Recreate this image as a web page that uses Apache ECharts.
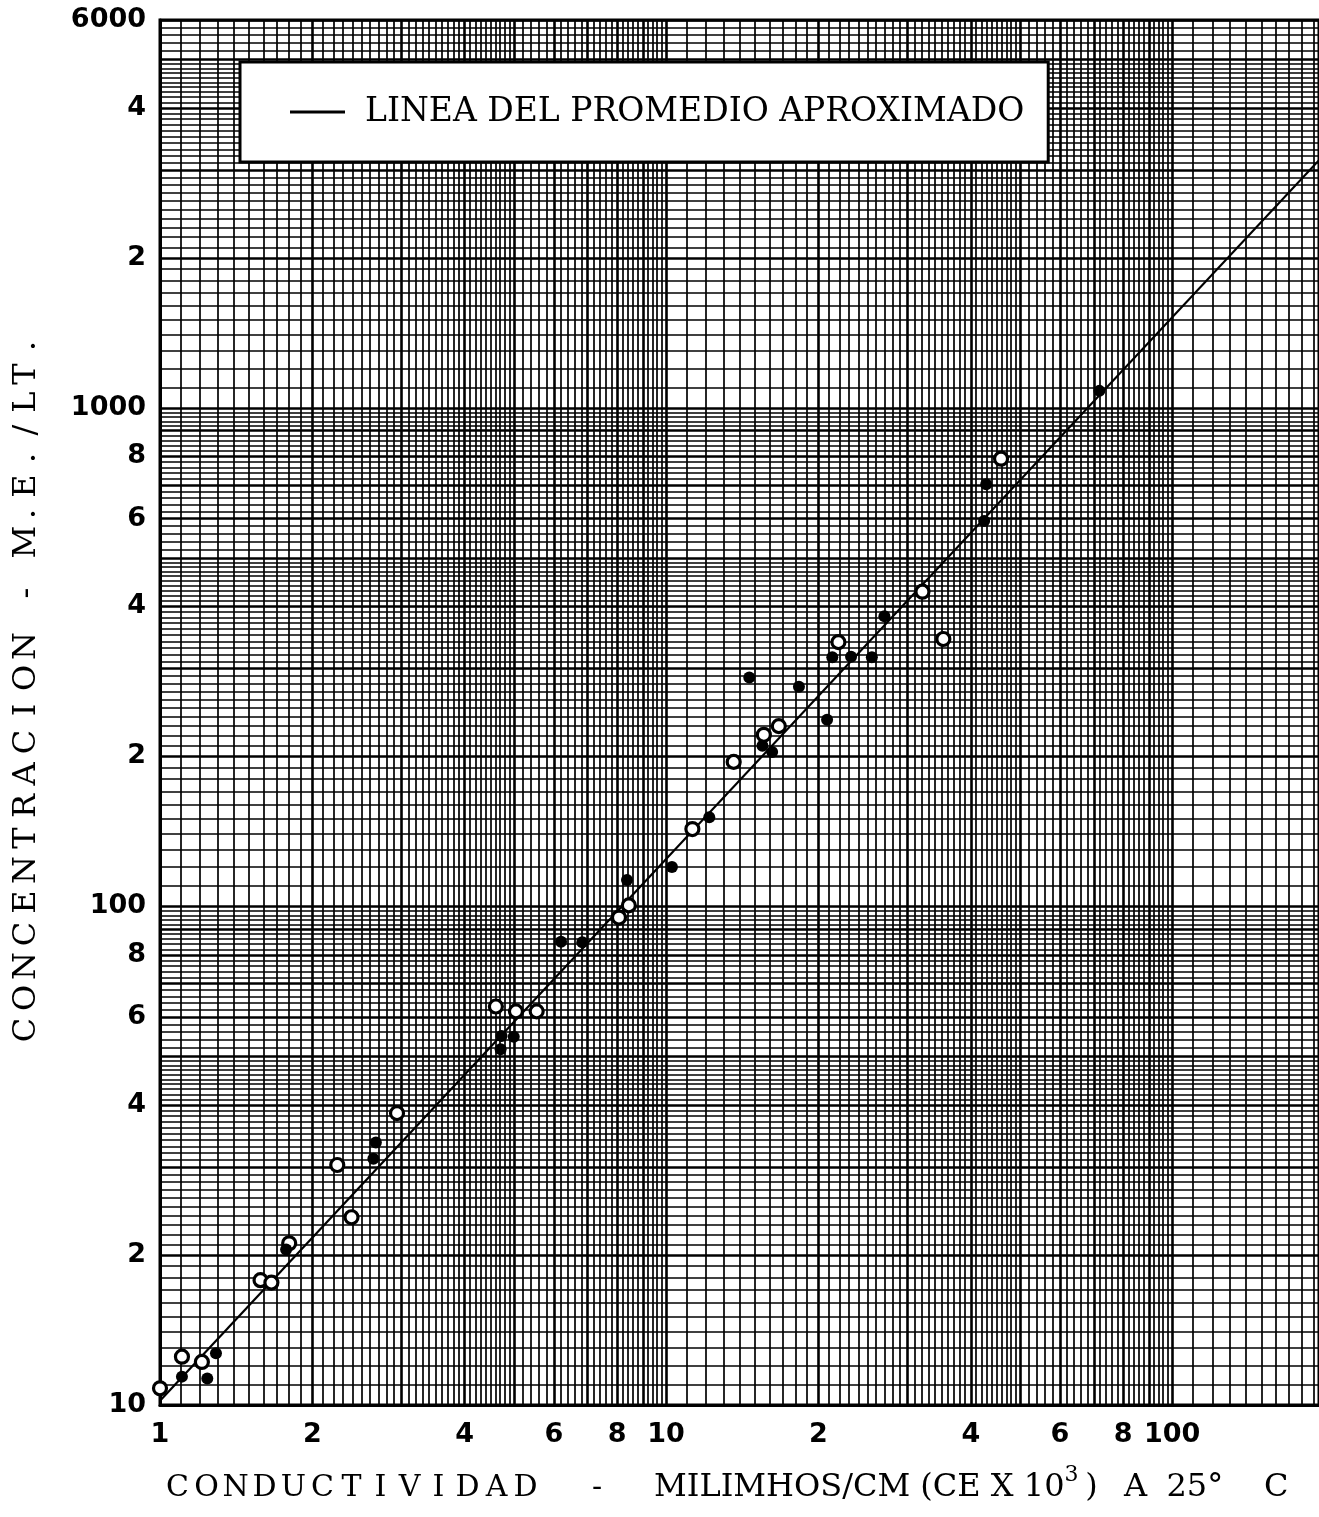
<!DOCTYPE html>
<html>
<head>
<meta charset="utf-8">
<script src="https://cdn.jsdelivr.net/npm/echarts@6/dist/echarts.min.js"></script>
<style>
  html, body { margin: 0; padding: 0; background: #fff; }
  #chart { width: 1319px; height: 1517px; }
</style>
</head>
<body>
<div id="chart"></div>
<script>
// datos
const openX = [1.0, 1.105, 1.21, 1.58, 1.66, 1.80, 2.24, 2.39, 2.94, 4.61, 5.05, 5.55, 8.07, 8.44, 11.27, 13.6, 15.6, 16.7, 21.9, 32.1, 35.3, 45.9];
const openY = [10.8, 12.5, 12.2, 17.8, 17.6, 21.1, 30.3, 23.8, 38.5, 63.0, 61.6, 61.6, 95, 100.5, 143, 195, 221, 230, 339, 428, 344, 791];
const dotX = [1.105, 1.24, 1.29, 1.775, 2.64, 2.67, 4.71, 4.73, 5.0, 6.2, 6.83, 8.37, 10.27, 12.17, 14.6, 15.5, 16.2, 18.3, 20.8, 21.3, 23.2, 25.5, 27.0, 42.5, 42.9, 71.8];
const dotY = [11.4, 11.3, 12.7, 20.5, 31.2, 33.6, 51.7, 55, 54.8, 85, 84.8, 113, 120, 151, 288, 210, 204, 276, 237, 316, 317, 316, 382, 593, 703, 1082];
const lineX = [1, 195];
const lineY = [10.2, 3140];

const xTickValues = [1, 2, 4, 6, 8, 10, 20, 40, 60, 80, 100];
const xTickLabels = ['1', '2', '4', '6', '8', '10', '2', '4', '6', '8', '100'];
const yTickValues = [10, 20, 40, 60, 80, 100, 200, 400, 600, 800, 1000, 2000, 4000, 6000];
const yTickLabels = ['10', '2', '4', '6', '8', '100', '2', '4', '6', '8', '1000', '2', '4', '6000'];

const lineName = 'LINEA DEL PROMEDIO APROXIMADO';

// papel logaritmico: divisiones de cada decada
const paperSteps = [[1, 2, 0.1], [2, 5, 0.1], [5, 10, 0.2]];
function paperLines(decades) {
    const thin = [], thick = [];
    decades.forEach(function (d) {
        paperSteps.forEach(function (seg) {
            const n = Math.round((seg[1] - seg[0]) / seg[2]);
            for (let i = 0; i < n; i++) {
                const v = Math.round((seg[0] + i * seg[2]) * 100) / 100;
                const val = +(v * d).toPrecision(6);
                if (Number.isInteger(v)) thick.push(val); else thin.push(val);
            }
        });
    });
    return {thin: thin, thick: thick};
}
const xPaper = paperLines([1, 10, 100]);
const yPaper = paperLines([10, 100, 1000]);

function labelFor(values, labels) {
    return function (v) {
        for (let i = 0; i < values.length; i++) {
            if (Math.abs(values[i] - v) / values[i] < 1e-6) return labels[i];
        }
        return '';
    };
}

function spaced(text, style) {
    return text.split('').map(function (c) { return '{' + style + '|' + c + '}'; }).join('');
}

const chart = echarts.init(document.getElementById('chart'));
const gridH = 1385, gridW = 1159;
const labelFont = {fontFamily: 'DejaVu Sans', fontWeight: 'bold', fontSize: 27, color: '#000'};
const serif = 'DejaVu Serif';

const option = {
    backgroundColor: '#fff',
    animation: false,
    grid: {
        left: 160, top: 20, right: 0, bottom: 112,
        show: true, borderColor: '#000', borderWidth: 3, backgroundColor: 'transparent'
    },
    legend: {
        data: [{name: lineName, icon: 'rect'}],
        left: 240, top: 62,
        backgroundColor: '#fff',
        borderColor: '#000',
        borderWidth: 3,
        padding: [33, 24, 33, 50],
        itemWidth: 55,
        itemHeight: 3,
        selectedMode: false,
        itemStyle: {color: '#000', borderWidth: 0},
        textStyle: {fontFamily: serif, fontSize: 33, color: '#000', lineHeight: 34, padding: [0, 0, 0, 15]}
    },
    xAxis: [{
        type: 'log', logBase: 10, min: 1, max: 195,
        position: 'bottom',
        axisLine: {show: true, lineStyle: {color: '#000', width: 3}},
        axisTick: {show: true, customValues: xPaper.thick, inside: true, length: gridH, lineStyle: {color: '#000', width: 2.6}},
        axisLabel: Object.assign({customValues: xTickValues, margin: 16, formatter: labelFor(xTickValues, xTickLabels)}, labelFont),
        splitLine: {show: false}
    }, {
        type: 'log', logBase: 10, min: 1, max: 195,
        position: 'bottom',
        axisLine: {show: false},
        axisTick: {show: true, customValues: xPaper.thin, inside: true, length: gridH, lineStyle: {color: '#000', width: 1.7}},
        axisLabel: {show: false},
        splitLine: {show: false}
    }],
    yAxis: [{
        type: 'log', logBase: 10, min: 10, max: 6000,
        position: 'left',
        axisLine: {show: true, lineStyle: {color: '#000', width: 3}},
        axisTick: {show: true, customValues: yPaper.thick, inside: true, length: gridW, lineStyle: {color: '#000', width: 2.6}},
        axisLabel: Object.assign({customValues: yTickValues, margin: 14, formatter: labelFor(yTickValues, yTickLabels)}, labelFont),
        splitLine: {show: false}
    }, {
        type: 'log', logBase: 10, min: 10, max: 6000,
        position: 'left',
        axisLine: {show: false},
        axisTick: {show: true, customValues: yPaper.thin, inside: true, length: gridW, lineStyle: {color: '#000', width: 1.7}},
        axisLabel: {show: false},
        splitLine: {show: false}
    }],
    series: [{
        name: lineName,
        type: 'line',
        symbol: 'none',
        showSymbol: false,
        data: lineX.map(function (x, i) { return [x, lineY[i]]; }),
        lineStyle: {color: '#000', width: 2.2},
        itemStyle: {color: '#000'},
        z: 3
    }, {
        name: 'abiertos',
        type: 'scatter',
        symbol: 'circle',
        symbolSize: 13,
        data: openX.map(function (x, i) { return [x, openY[i]]; }),
        itemStyle: {color: '#fff', borderColor: '#000', borderWidth: 3.2, opacity: 1},
        z: 4
    }, {
        name: 'llenos',
        type: 'scatter',
        symbol: 'circle',
        symbolSize: 12,
        data: dotX.map(function (x, i) { return [x, dotY[i]]; }),
        itemStyle: {color: '#000', opacity: 1},
        z: 4
    }],
    graphic: [{
        type: 'text',
        x: 163, y: 1488,
        style: {
            text: spaced('CONDUCTIVIDAD', 'w') + '{d|-}' + '{n|MILIMHOS/CM (CE X 10}{sup|3}{p|)}{a|A}{n|25°}{c|C}',
            textVerticalAlign: 'middle',
            fill: '#000',
            rich: {
                w: {width: 29, align: 'center', fontFamily: serif, fontSize: 30, lineHeight: 48, fill: '#000'},
                d: {width: 114, align: 'center', fontFamily: serif, fontSize: 30, lineHeight: 48, fill: '#000'},
                n: {fontFamily: serif, fontSize: 32, lineHeight: 48, fill: '#000'},
                p: {width: 26, align: 'center', fontFamily: serif, fontSize: 32, lineHeight: 48, fill: '#000'},
                a: {width: 62, align: 'center', fontFamily: serif, fontSize: 32, lineHeight: 48, fill: '#000'},
                c: {width: 106, align: 'center', fontFamily: serif, fontSize: 32, lineHeight: 48, fill: '#000'},
                sup: {fontFamily: serif, fontSize: 22, lineHeight: 22, verticalAlign: 'top', fill: '#000'}
            }
        }
    }, {
        type: 'text',
        x: 27, y: 1046,
        rotation: Math.PI / 2,
        style: {
            text: spaced('CONCENTRACION', 'w') + '{d|-}' + spaced('M.E./LT.', 'm'),
            textVerticalAlign: 'middle',
            fill: '#000',
            rich: {
                w: {width: 32, align: 'center', fontFamily: serif, fontSize: 32, fill: '#000'},
                d: {width: 74, align: 'center', fontFamily: serif, fontSize: 32, fill: '#000'},
                m: {width: 28, align: 'center', fontFamily: serif, fontSize: 32, fill: '#000'}
            }
        }
    }]
};
chart.setOption(option);
</script>
</body>
</html>
